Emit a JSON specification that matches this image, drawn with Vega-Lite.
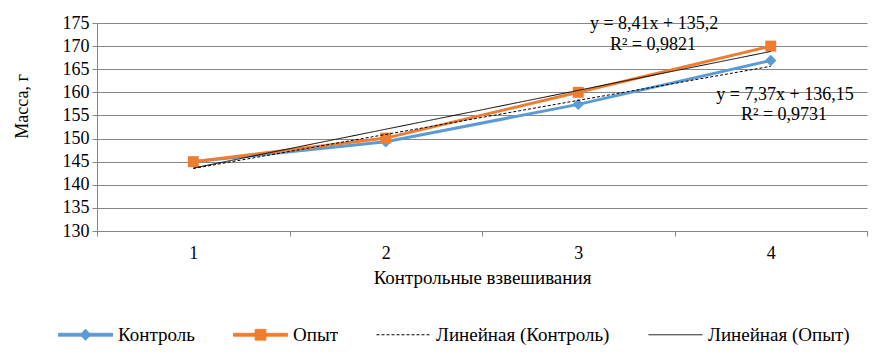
{
  "$schema": "https://vega.github.io/schema/vega-lite/v6.json",
  "width": 770,
  "height": 208,
  "autosize": {"type": "none"},
  "padding": {"left": 97, "top": 23, "right": 22, "bottom": 131},
  "background": "white",
  "config": {
    "font": "Liberation Serif",
    "view": {"stroke": null},
    "axis": {"labelFont": "Liberation Serif", "titleFont": "Liberation Serif"},
    "legend": {"labelFont": "Liberation Serif", "titleFont": "Liberation Serif"},
    "text": {"font": "Liberation Serif"}
  },
  "datasets": {
    "series": [
      {"x": 1, "y": 145.0, "s": "Контроль"},
      {"x": 2, "y": 149.3, "s": "Контроль"},
      {"x": 3, "y": 157.4, "s": "Контроль"},
      {"x": 4, "y": 166.9, "s": "Контроль"},
      {"x": 1, "y": 145.0, "s": "Опыт"},
      {"x": 2, "y": 150.1, "s": "Опыт"},
      {"x": 3, "y": 160.0, "s": "Опыт"},
      {"x": 4, "y": 170.0, "s": "Опыт"}
    ],
    "trend": [
      {"x": 1, "y": 143.52, "s": "Линейная (Контроль)"},
      {"x": 4, "y": 165.63, "s": "Линейная (Контроль)"},
      {"x": 1, "y": 143.61, "s": "Линейная (Опыт)"},
      {"x": 4, "y": 168.84, "s": "Линейная (Опыт)"}
    ],
    "eq": [
      {"x": 3.394, "y": 174.8, "t": "y = 8,41x + 135,2"},
      {"x": 3.388, "y": 170.3, "t": "R² = 0,9821"},
      {"x": 4.074, "y": 159.4, "t": "y = 7,37x + 136,15"},
      {"x": 4.069, "y": 155.1, "t": "R² = 0,9731"}
    ]
  },
  "encoding": {
    "x": {
      "field": "x",
      "type": "quantitative",
      "scale": {"domain": [0.5, 4.5], "nice": false, "zero": false},
      "axis": {
        "values": [0.5, 1, 1.5, 2, 2.5, 3, 3.5, 4, 4.5],
        "labelExpr": "datum.value % 1 === 0 ? format(datum.value, 'd') : ''",
        "tickOpacity": {"condition": {"test": "datum.value % 1 === 0", "value": 0}, "value": 1},
        "grid": false,
        "title": "Контрольные взвешивания",
        "titleFontSize": 19,
        "titleFontWeight": "normal",
        "titleColor": "black",
        "titlePadding": 6,
        "labelFontSize": 18,
        "labelColor": "black",
        "labelPadding": 8,
        "labelFlush": false,
        "domainColor": "#868686",
        "tickColor": "#868686",
        "tickSize": 5
      }
    },
    "y": {
      "field": "y",
      "type": "quantitative",
      "scale": {"domain": [130, 175], "nice": false, "zero": false},
      "axis": {
        "values": [130, 135, 140, 145, 150, 155, 160, 165, 170, 175],
        "grid": true,
        "gridColor": "#868686",
        "domainColor": "#868686",
        "tickColor": "#868686",
        "tickSize": 5,
        "labelFontSize": 18,
        "labelColor": "black",
        "labelPadding": 3,
        "title": "Масса, г",
        "titleFontSize": 18,
        "titleFontWeight": "normal",
        "titleColor": "black",
        "titleX": -75,
        "titleY": 83,
        "titleBaseline": "middle",
        "titleAngle": -90
      }
    }
  },
  "layer": [
    {
      "data": {"name": "series"},
      "mark": {"type": "line", "strokeWidth": 3},
      "encoding": {
        "color": {
          "field": "s",
          "type": "nominal",
          "scale": {
            "domain": ["Контроль", "Опыт", "Линейная (Контроль)", "Линейная (Опыт)"],
            "range": ["#5B9BD5", "#ED7D31", "#000000", "#000000"]
          },
          "legend": {
            "title": null,
            "orient": "none",
            "legendX": -39,
            "legendY": 284,
            "direction": "horizontal",
            "columns": 4,
            "columnPadding": 36,
            "labelFontSize": 19,
            "labelColor": "black",
            "labelLimit": 400,
            "labelOffset": 5,
            "symbolSize": 2916,
            "encode": {
              "symbols": {
                "update": {
                  "shape": {"signal": "datum.value === 'Контроль' ? 'M-1,-0.055L1,-0.055L1,0.055L-1,0.055Z M0,-0.21L0.19,0L0,0.21L-0.19,0Z' : datum.value === 'Опыт' ? 'M-1,-0.055L1,-0.055L1,0.055L-1,0.055Z M-0.2,-0.2L0.2,-0.2L0.2,0.2L-0.2,0.2Z' : 'M-1,0L1,0'"},
                  "fill": {"signal": "datum.value === 'Контроль' ? '#5B9BD5' : datum.value === 'Опыт' ? '#ED7D31' : 'transparent'"},
                  "stroke": {"signal": "datum.value === 'Контроль' || datum.value === 'Опыт' ? 'transparent' : '#000000'"},
                  "strokeWidth": {"value": 1},
                  "strokeDash": {"signal": "datum.value === 'Линейная (Контроль)' ? [3, 2] : [1, 0]"},
                  "opacity": {"value": 1},
                  "fillOpacity": {"value": 1},
                  "strokeOpacity": {"value": 1}
                }
              }
            }
          }
        }
      }
    },
    {
      "data": {"name": "series"},
      "mark": {"type": "point", "filled": true, "opacity": 1},
      "encoding": {
        "color": {"field": "s", "type": "nominal"},
        "shape": {
          "field": "s",
          "type": "nominal",
          "scale": {"domain": ["Контроль", "Опыт"], "range": ["diamond", "square"]},
          "legend": null
        },
        "size": {
          "field": "s",
          "type": "nominal",
          "scale": {"domain": ["Контроль", "Опыт"], "range": [130, 120]},
          "legend": null
        }
      }
    },
    {
      "data": {"name": "trend"},
      "mark": {"type": "line", "strokeWidth": 1},
      "encoding": {
        "color": {"field": "s", "type": "nominal"},
        "strokeDash": {
          "field": "s",
          "type": "nominal",
          "scale": {"domain": ["Линейная (Контроль)", "Линейная (Опыт)"], "range": [[3, 2], [1, 0]]},
          "legend": null
        }
      }
    },
    {
      "data": {"name": "eq"},
      "mark": {"type": "text", "fontSize": 18, "color": "black", "align": "center", "baseline": "middle"},
      "encoding": {
        "text": {"field": "t", "type": "nominal"}
      }
    }
  ]
}
